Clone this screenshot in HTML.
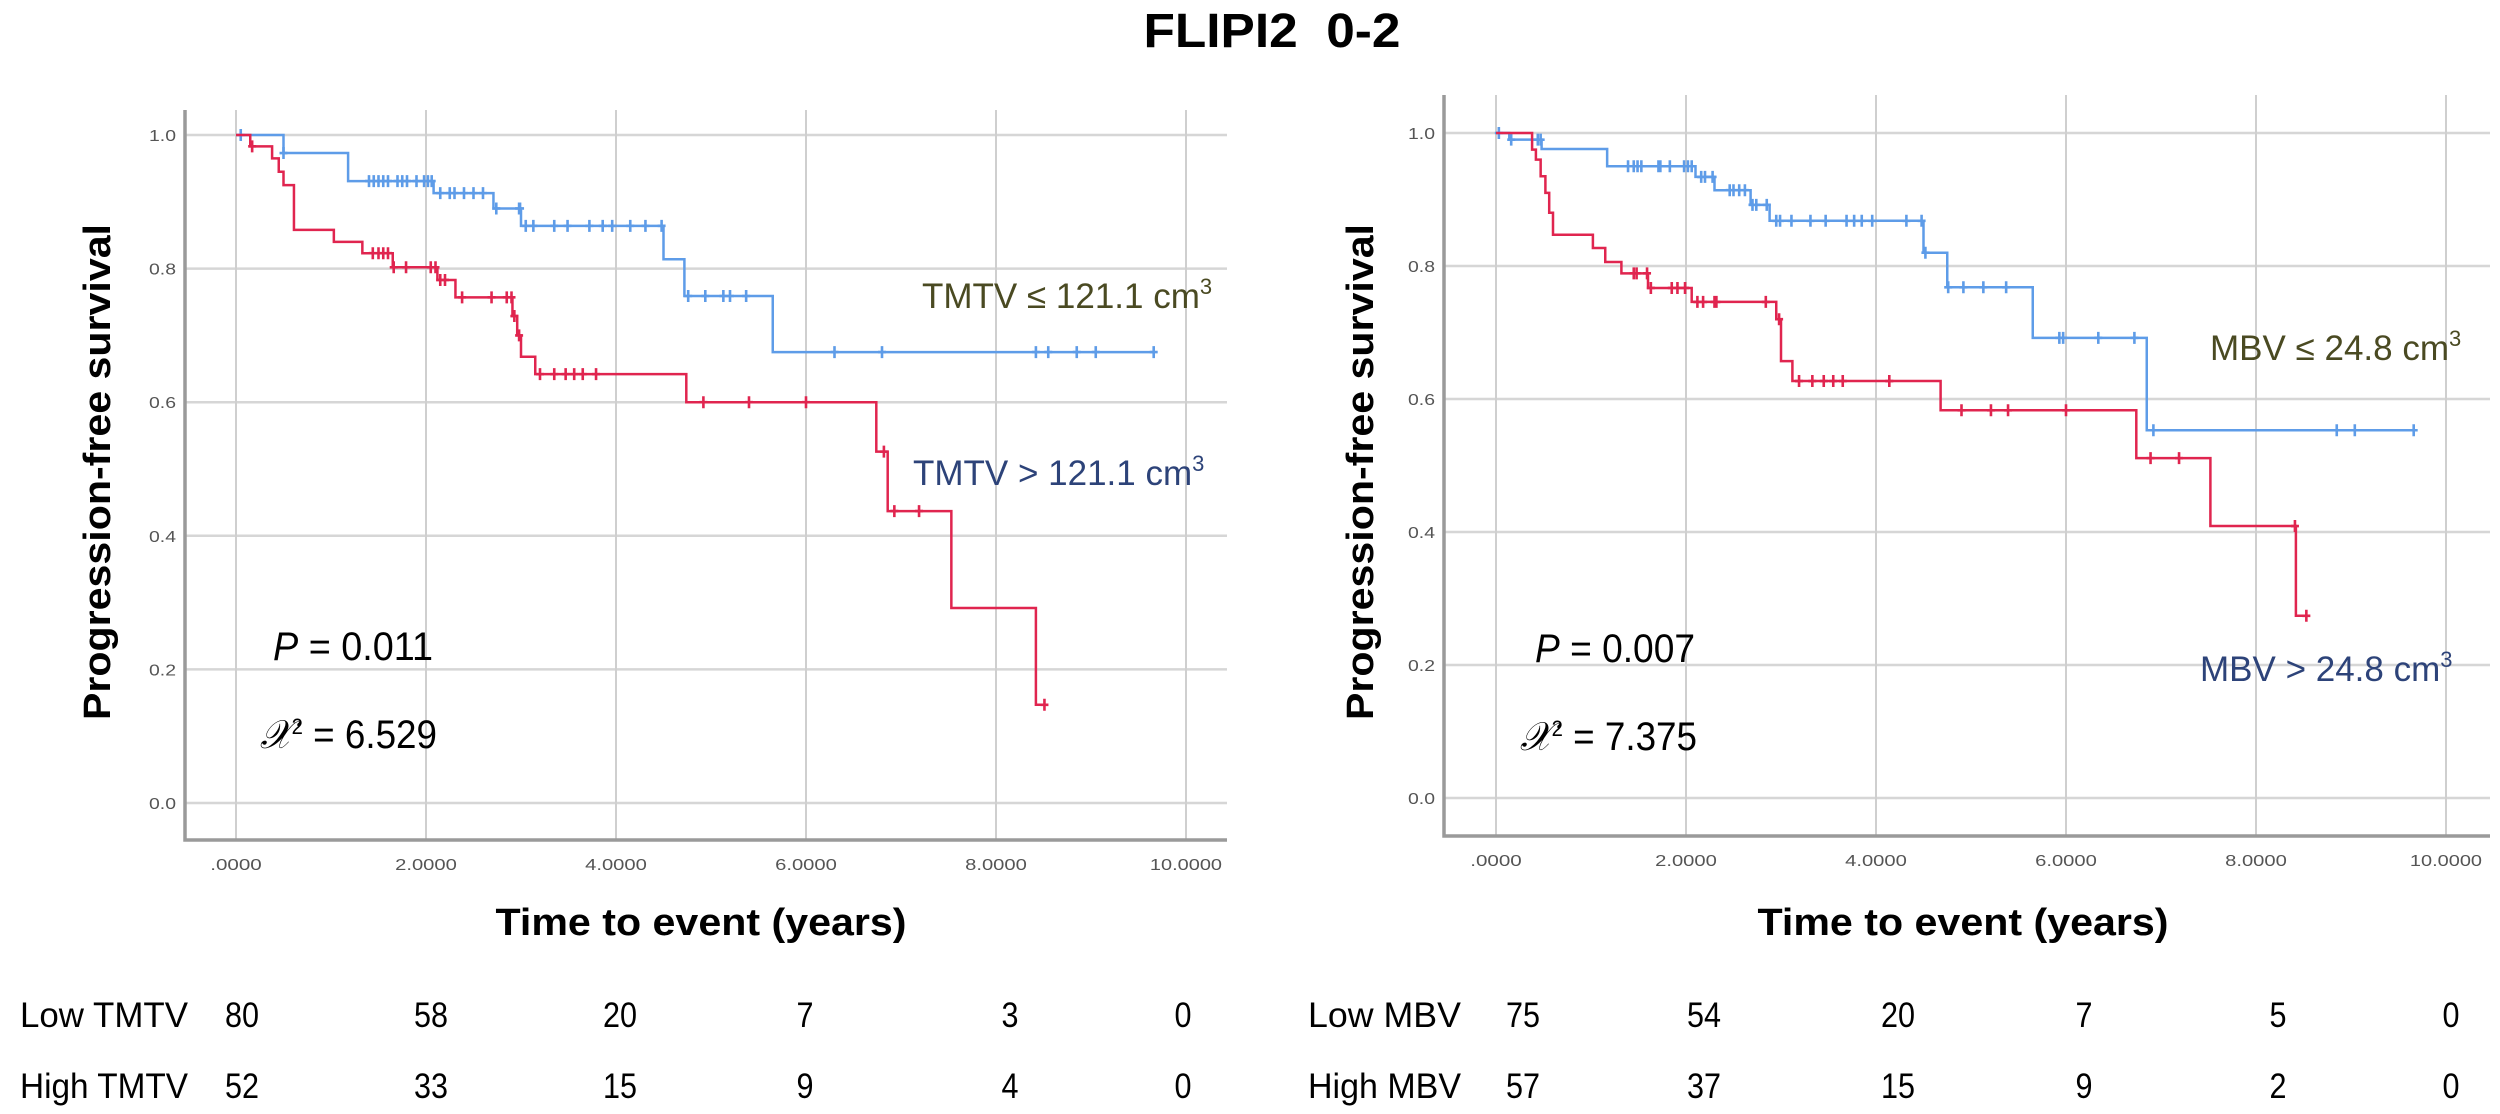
<!DOCTYPE html>
<html><head><meta charset="utf-8"><style>
html,body{margin:0;padding:0;background:#fff;}
svg{display:block;font-family:"Liberation Sans",Arial,sans-serif;}
</style></head><body>
<svg id="fig" width="2500" height="1114" viewBox="0 0 2500 1114">
<text x="1272" y="47" text-anchor="middle" font-size="48" font-weight="bold" textLength="257" lengthAdjust="spacingAndGlyphs">FLIPI2&#160;&#160;0-2</text>
<g id="left"></g>
<g id="right"></g>
</svg>
<script>
// ---- data ----
const xTicks = [0,2,4,6,8,10];
const xTickLabels = [".0000","2.0000","4.0000","6.0000","8.0000","10.0000"];
const yTicks = [0,0.2,0.4,0.6,0.8,1.0];
const yTickLabels = ["0.0","0.2","0.4","0.6","0.8","1.0"];

const tmtvLowTimes = [0.5,1.18,2.08,2.71,3.0,4.5,4.72,5.65];
const tmtvLowSurv  = [0.973,0.931,0.913,0.89,0.864,0.814,0.759,0.675];
const tmtvLowCens  = [0.05,0.5,1.4,1.45,1.5,1.55,1.6,1.7,1.75,1.8,1.9,1.98,2.02,2.06,2.15,2.25,2.3,2.4,2.5,2.6,2.74,2.98,2.99,3.05,3.13,3.35,3.49,3.72,3.86,3.96,4.15,4.31,4.48,4.76,4.94,5.13,5.2,5.37,6.3,6.8,8.42,8.55,8.85,9.05,9.66];
const tmtvHighTimes = [0.15,0.38,0.45,0.5,0.61,1.03,1.33,1.65,2.12,2.31,2.91,2.96,3.0,3.15,4.74,6.74,6.86,7.53,8.42];
const tmtvHighSurv  = [0.983,0.965,0.945,0.925,0.858,0.84,0.823,0.802,0.783,0.757,0.729,0.70,0.668,0.642,0.60,0.526,0.437,0.292,0.147];
const tmtvHighCens  = [0.17,1.44,1.5,1.55,1.6,1.66,1.79,2.05,2.1,2.15,2.2,2.38,2.69,2.85,2.9,2.93,2.98,3.2,3.35,3.47,3.56,3.65,3.79,4.92,5.4,6.0,6.82,6.93,7.19,8.51];

const mbvLowTimes = [0.14,0.48,1.17,2.1,2.3,2.68,2.88,4.5,4.75,5.65,6.85];
const mbvLowSurv  = [0.99,0.976,0.95,0.934,0.914,0.892,0.868,0.82,0.768,0.692,0.553];
const mbvLowCens  = [0.03,0.16,0.44,0.47,1.39,1.45,1.49,1.53,1.71,1.73,1.83,1.98,2.02,2.06,2.16,2.2,2.28,2.46,2.5,2.56,2.62,2.7,2.74,2.85,2.95,2.99,3.11,3.31,3.47,3.69,3.77,3.85,3.96,4.32,4.48,4.52,4.76,4.92,5.13,5.37,5.93,5.97,6.34,6.72,6.92,8.85,9.04,9.66];
const mbvHighTimes = [0.38,0.42,0.47,0.52,0.56,0.6,1.02,1.15,1.32,1.6,2.06,2.95,3.0,3.12,4.68,6.74,7.52,8.42];
const mbvHighSurv  = [0.975,0.96,0.935,0.91,0.88,0.847,0.827,0.806,0.789,0.767,0.746,0.72,0.657,0.627,0.583,0.511,0.409,0.274];
const mbvHighCens  = [1.45,1.48,1.59,1.63,1.85,1.91,1.99,2.12,2.18,2.3,2.32,2.84,2.98,3.19,3.33,3.45,3.55,3.65,4.14,4.9,5.21,5.39,6.0,6.89,7.19,8.41,8.53];

const tmtvRiskLow  = ["80","58","20","7","3","0"];
const tmtvRiskHigh = ["52","33","15","9","4","0"];
const mbvRiskLow   = ["75","54","20","7","5","0"];
const mbvRiskHigh  = ["57","37","15","9","2","0"];

const NS = "http://www.w3.org/2000/svg";
function mk(parent, tag, attrs, text){
  const e = document.createElementNS(NS, tag);
  for (const k in attrs) e.setAttribute(k, attrs[k]);
  if (text !== undefined) e.textContent = text;
  parent.appendChild(e);
  return e;
}
function survAt(times, surv, t){
  let s = 1;
  for (let i=0;i<times.length;i++){ if (times[i] <= t) s = surv[i]; }
  return s;
}
function drawPanel(g, cfg){
  const X = t => cfg.x0 + cfg.sx*t;
  const Y = v => cfg.y0 - cfg.sy*v;
  yTicks.forEach((v,i)=>{
    const l = mk(g,'line',{x1:cfg.left,x2:cfg.right,y1:Y(v),y2:Y(v),stroke:'#d6d6d6','stroke-width':2.5});
    
    
    const t = mk(g,'text',{x:cfg.left-9,y:Y(v)+6,'text-anchor':'end','font-size':16,fill:'#555',textLength:27,lengthAdjust:'spacingAndGlyphs'},yTickLabels[i]);
    
    
  });
  xTicks.forEach((v,i)=>{
    const l = mk(g,'line',{x1:X(v),x2:X(v),y1:cfg.top,y2:cfg.bottom,stroke:'#cfcfcf','stroke-width':2});
    
    
    const w = xTickLabels[i].length*10.3;
    const t = mk(g,'text',{x:X(v),y:cfg.bottom+30,'text-anchor':'middle','font-size':16,fill:'#555',textLength:w,lengthAdjust:'spacingAndGlyphs'},xTickLabels[i]);
    
    
  });
  const ax = mk(g,'path',{d:`M${cfg.left},${cfg.top} L${cfg.left},${cfg.bottom} L${cfg.right},${cfg.bottom}`,fill:'none',stroke:'#9a9a9a','stroke-width':3.5});
  
  
  cfg.series.forEach(s=>{
    let d = `M${X(0)},${Y(1)}`;
    let cur = 1;
    s.times.forEach((t,i)=>{ d += ` L${X(t)},${Y(cur)} L${X(t)},${Y(s.surv[i])}`; cur = s.surv[i]; });
    const lastC = Math.max(...s.cens, s.times[s.times.length-1]);
    d += ` L${X(lastC)},${Y(cur)}`;
    const p = mk(g,'path',{d:d,fill:'none',stroke:s.color,'stroke-width':2.5});
    
    
    let cd = '';
    s.cens.forEach(t=>{ const v = survAt(s.times,s.surv,t); cd += `M${X(t)},${Y(v)-6} L${X(t)},${Y(v)+6} M${X(t)-4},${Y(v)} L${X(t)+4},${Y(v)} `; });
    const c = mk(g,'path',{d:cd,fill:'none',stroke:s.color,'stroke-width':2.6});
    
    
  });
  const yt = mk(g,'text',{x:0,y:0,transform:`translate(${cfg.ytx},472) rotate(-90)`,'text-anchor':'middle','font-size':38,'font-weight':'bold',textLength:496,lengthAdjust:'spacingAndGlyphs'},'Progression-free survival');
  
  
  const xt = mk(g,'text',{x:cfg.xtx,y:935,'text-anchor':'middle','font-size':38,'font-weight':'bold',textLength:411,lengthAdjust:'spacingAndGlyphs'},'Time to event (years)');
  
  
  cfg.labels.forEach(L=>{
    const t = mk(g,'text',{x:L.x,y:L.y,'font-size':35,fill:L.color});
    
    
    t.appendChild(document.createTextNode(L.text+' cm'));
    mk(t,'tspan',{dy:-14,'font-size':22},'3');
  });
  const p1 = mk(g,'text',{x:cfg.px,y:cfg.py,'font-size':40,textLength:160,lengthAdjust:'spacingAndGlyphs'});
  
  
  mk(p1,'tspan',{'font-style':'italic'},'P');
  p1.appendChild(document.createTextNode(' = '+cfg.p));
  const c1 = mk(g,'text',{x:cfg.cx,y:cfg.cy,'font-size':40,textLength:177,lengthAdjust:'spacingAndGlyphs'});
  
  
  mk(c1,'tspan',{'font-style':'italic','font-family':'Liberation Serif, serif'},'𝒳');
  mk(c1,'tspan',{dy:-14,'font-size':22},'2');
  mk(c1,'tspan',{dy:14},' = '+cfg.chi);
  [[cfg.riskLow,cfg.lowLabel,1027],[cfg.riskHigh,cfg.highLabel,1098]].forEach(r=>{
    const lab = mk(g,'text',{x:cfg.rlx,y:r[2],'font-size':35,textLength:cfg.rlw,lengthAdjust:'spacingAndGlyphs'},r[1]);
    
    
    r[0].forEach((n,i)=>{
      const t = mk(g,'text',{x:cfg.riskX[i],y:r[2],'text-anchor':'middle','font-size':35,textLength:n.length*17,lengthAdjust:'spacingAndGlyphs'},n);
      
      
    });
  });
}
drawPanel(document.getElementById('left'),{
  x0:236,sx:95,y0:803,sy:668,left:185,right:1227,top:110,bottom:840,ytx:110,xtx:701,
  series:[
    {name:'tmtv-low',times:tmtvLowTimes,surv:tmtvLowSurv,cens:tmtvLowCens,color:'#5e9ce8'},
    {name:'tmtv-high',times:tmtvHighTimes,surv:tmtvHighSurv,cens:tmtvHighCens,color:'#e0254f'}],
  labels:[{name:'tmtv-low-label',text:'TMTV ≤ 121.1',x:922,y:308,color:'#4a4a22'},
          {name:'tmtv-high-label',text:'TMTV > 121.1',x:913,y:485,color:'#2d4379'}],
  px:273,py:660,p:'0.011',cx:260,cy:748,chi:'6.529',
  riskLow:tmtvRiskLow,riskHigh:tmtvRiskHigh,lowLabel:'Low TMTV',highLabel:'High TMTV',rlx:20,rlw:168,
  riskX:[242,431,620,805,1010,1183]
});
drawPanel(document.getElementById('right'),{
  x0:1496,sx:95,y0:798,sy:665,left:1444,right:2490,top:95,bottom:836,ytx:1373,xtx:1963,
  series:[
    {name:'mbv-low',times:mbvLowTimes,surv:mbvLowSurv,cens:mbvLowCens,color:'#5e9ce8'},
    {name:'mbv-high',times:mbvHighTimes,surv:mbvHighSurv,cens:mbvHighCens,color:'#e0254f'}],
  labels:[{name:'mbv-low-label',text:'MBV ≤ 24.8',x:2210,y:360,color:'#4a4a22'},
          {name:'mbv-high-label',text:'MBV > 24.8',x:2200,y:681,color:'#2d4379'}],
  px:1535,py:662,p:'0.007',cx:1520,cy:750,chi:'7.375',
  riskLow:mbvRiskLow,riskHigh:mbvRiskHigh,lowLabel:'Low MBV',highLabel:'High MBV',rlx:1308,rlw:153,
  riskX:[1523,1704,1898,2084,2278,2451]
});
</script>
</body></html>
